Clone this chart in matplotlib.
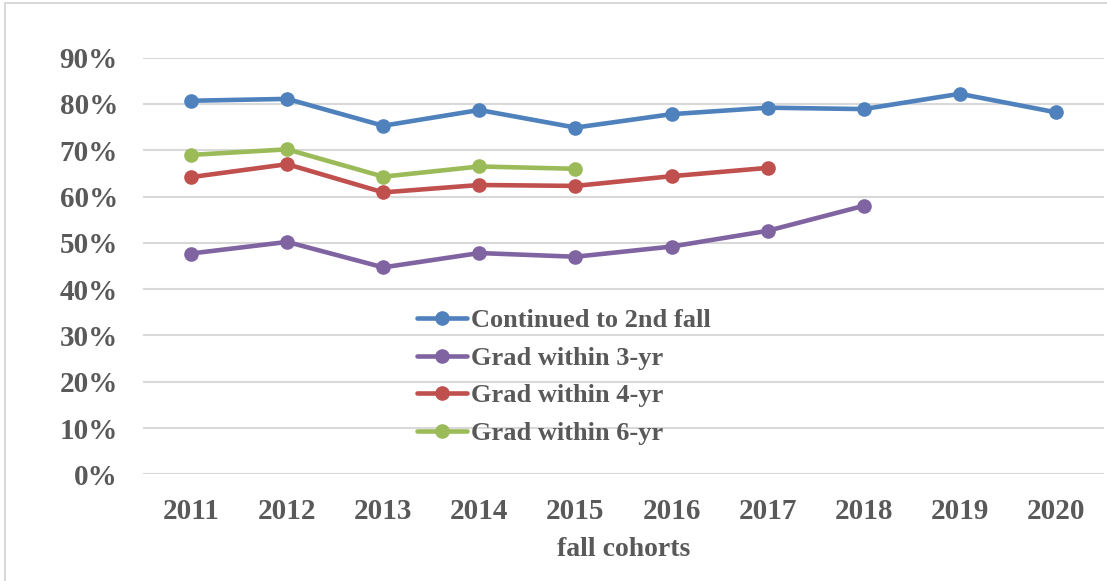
import numpy as np
import matplotlib.pyplot as plt
from matplotlib.patches import Rectangle
from matplotlib.ticker import PercentFormatter

# data
years = ['2011', '2012', '2013', '2014', '2015', '2016', '2017', '2018', '2019', '2020']
cont_2nd_fall = [80.7, 81.1, 75.3, 78.7, 74.9, 77.8, 79.2, 78.9, 82.2, 78.2]
grad_3yr = [47.7, 50.2, 44.7, 47.8, 47.0, 49.2, 52.6, 58.0]
grad_4yr = [64.2, 67.0, 60.9, 62.5, 62.3, 64.4, 66.2]
grad_6yr = [69.0, 70.2, 64.3, 66.5, 66.0]

labels = ['Continued to 2nd fall', 'Grad within 3-yr', 'Grad within 4-yr', 'Grad within 6-yr']
colors = ['#4F81BD', '#8064A2', '#C0504D', '#9BBB59']
series = [cont_2nd_fall, grad_3yr, grad_4yr, grad_6yr]

txt = '#595959'
plt.rcParams['font.family'] = ['Liberation Serif', 'DejaVu Serif']
plt.rcParams['font.weight'] = 'bold'

fig = plt.figure(figsize=(11.07, 5.81), dpi=100)
ax = fig.add_axes([143/1107, 1-474.3/581, (1104-143)/1107, (474.3-57.7)/581])

# 边框
fig.patches.append(Rectangle((5/1107, -0.1), 1.2, 1.1 - 3/581, transform=fig.transFigure,
                             fill=False, edgecolor='#D9D9D9', linewidth=1.5))

x = np.arange(len(years))
for vals, lab, c in zip(series, labels, colors):
    ax.plot(x[:len(vals)], vals, color=c, lw=3.3, marker='o', ms=9.5, label=lab,
            solid_capstyle='round')

ax.set_xlim(-0.5, len(years) - 0.5)
ax.set_ylim(0, 90)
ax.set_yticks(np.arange(0, 91, 10))
ax.yaxis.set_major_formatter(PercentFormatter(decimals=0))
ax.set_xticks(x)
ax.set_xticklabels(years)

ax.grid(axis='y', color='#D9D9D9', lw=1.5)
ax.set_axisbelow(True)
for s in ax.spines.values():
    s.set_visible(False)
ax.tick_params(axis='both', length=0, labelsize=21, labelcolor=txt)
ax.tick_params(axis='y', pad=18)
ax.tick_params(axis='x', pad=17)
for lbl in ax.get_xticklabels() + ax.get_yticklabels():
    lbl.set_fontweight('bold')

ax.set_xlabel('fall cohorts', fontsize=20, color=txt, fontweight='bold', labelpad=9)

leg = ax.legend(loc='upper left', bbox_to_anchor=(417/1107, 1-309/581),
                bbox_transform=fig.transFigure, frameon=False, borderpad=0,
                borderaxespad=0, handlelength=1.9, handletextpad=0.15,
                labelspacing=0.53, prop={'size': 19, 'weight': 'bold'})
for t in leg.get_texts():
    t.set_color(txt)

fig.savefig('out.png', dpi=100)
